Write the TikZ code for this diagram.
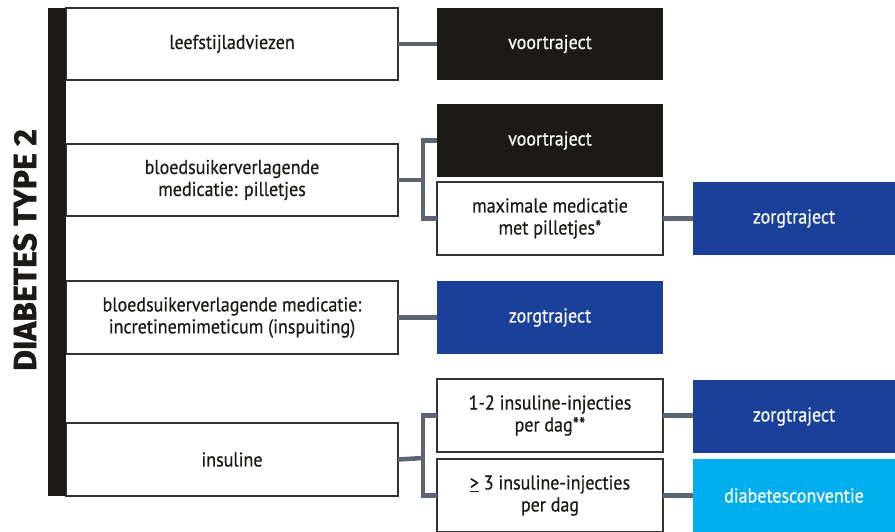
\documentclass[tikz,border=0pt]{standalone}
\usepackage{fontspec}
\setmainfont{PT Sans}[FakeStretch=0.9,FakeBold=0.5]
\newfontfamily\titlefont{Fira Sans}[BoldFeatures={FakeBold=1.5}]
\definecolor{blk}{HTML}{1C1A17}
\definecolor{dblue}{HTML}{1A4099}
\definecolor{lblue}{HTML}{00AEEF}
\definecolor{conncol}{HTML}{5C6672}
\definecolor{boxline}{HTML}{333333}
\definecolor{txt}{HTML}{1C1A17}
\begin{document}
\begin{tikzpicture}[x=1pt,y=-1pt,
  base/.style={inner sep=0pt,outer sep=0pt,anchor=north west,align=center,font=\fontsize{20}{22}\selectfont},
  wbox/.style={base,draw=boxline,line width=1.2pt,fill=white,text=txt},
  kbox/.style={base,fill=blk,text=white},
  dbox/.style={base,fill=dblue,text=white},
  lbox/.style={base,fill=lblue,text=white},
  conn/.style={draw=conncol,line width=4.5pt,line join=miter}]
\useasboundingbox (0,0) rectangle (895,531);
\clip (0,0) rectangle (895,531);
\node[wbox,minimum width=332pt,minimum height=72pt] (l1) at (66,8) {leefstijladviezen};
\node[wbox,minimum width=332pt,minimum height=72pt] (l2) at (66,144) {bloedsuikerverlagende\\medicatie: pilletjes};
\node[wbox,minimum width=332pt,minimum height=73pt] (l3) at (66,281) {bloedsuikerverlagende medicatie:\\incretinemimeticum (inspuiting)};
\node[wbox,minimum width=332pt,minimum height=73pt] (l4) at (66,423) {insuline};
\node[kbox,minimum width=18pt,minimum height=488pt] (bar) at (48,8) {};
\node[kbox,minimum width=226pt,minimum height=72pt] (v1) at (437,8) {voortraject};
\node[kbox,minimum width=226pt,minimum height=73pt] (v2) at (437,104) {voortraject};
\node[wbox,minimum width=226pt,minimum height=73pt] (m2) at (437,182) {maximale medicatie\\met pilletjes*};
\node[dbox,minimum width=226pt,minimum height=73pt] (z3) at (437,281) {zorgtraject};
\node[wbox,minimum width=226pt,minimum height=73pt] (i1) at (437,379) {1-2 insuline-injecties\\per dag**};
\node[wbox,minimum width=226pt,minimum height=73pt] (i2) at (437,459) {\underline{>} 3 insuline-injecties\\per dag};
\node[dbox,minimum width=202pt,minimum height=73pt] (z2) at (693,182) {zorgtraject};
\node[dbox,minimum width=202pt,minimum height=73pt] (z4) at (693,380) {zorgtraject};
\node[lbox,minimum width=202pt,minimum height=73pt] (dc) at (693,459) {diabetesconventie};
\node[rotate=90,text=blk,font=\fontsize{32}{32}\titlefont\bfseries] (title) at (25,250) {DIABETES TYPE 2};
% connectors
\coordinate (j2) at (423,180);
\coordinate (j4) at (423,458);
\draw[conn] (l1.east) -- (v1.west);
\draw[conn] (l2.east) -- (j2);
\draw[conn] (v2.west) -| (j2) |- (m2.west);
\draw[conn] (m2.east) -- (z2.west);
\draw[conn] (l3.east) -- (z3.west);
\draw[conn] (l4.east) -- (j4);
\draw[conn] (i1.west) -| (j4) |- (i2.west);
\draw[conn] (i1.east) -- (i1.east -| z4.west);
\draw[conn] (i2.east) -- (i2.east -| dc.west);
\end{tikzpicture}
\end{document}
